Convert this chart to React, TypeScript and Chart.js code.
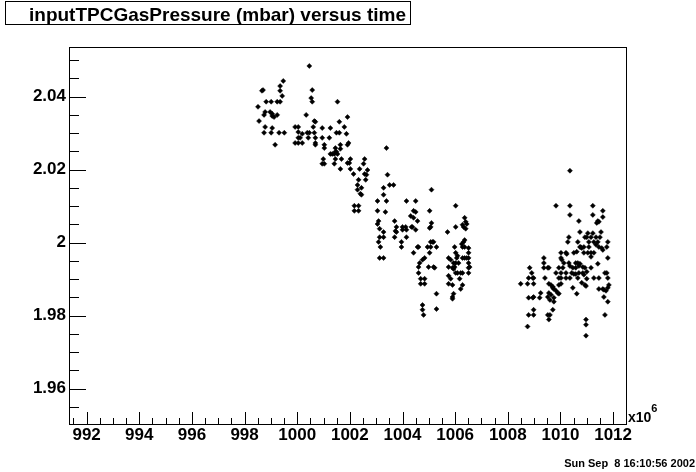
import { useEffect, useRef } from 'react';
import { Chart, registerables } from 'chart.js';

Chart.register(...registerables);

// time in units of 10^6 s, pressure in mbar
const runATime = [
  1000.46, 999.47, 999.35, 998.70, 998.66, 999.35, 1000.57, 999.43, 1000.53, 1000.57,
  998.82, 999.01, 999.24, 999.35, 1001.53, 998.51, 998.78, 998.74, 998.97, 999.05,
  999.12, 999.05, 999.24, 1000.34, 1001.91, 998.55, 1000.65, 1000.69, 1001.60, 998.78,
  999.05, 999.92, 1000.04, 1000.61, 1000.95, 1001.26, 1001.79, 998.74, 999.01, 999.31,
  999.51, 1000.04, 1000.19, 1000.38, 1000.46, 1000.65, 1001.49, 1001.60, 1001.87, 1000.04,
  1000.11, 1000.42, 1000.69, 1000.95, 1001.22, 999.16, 999.92, 1000.04, 1000.19, 1000.69,
  1000.69, 1001.03, 1001.03, 1001.64, 1001.64, 1001.95, 1001.91, 1001.45, 1001.49, 1001.26,
  1001.33, 1001.41, 1001.53, 1001.45, 1003.39, 1000.99, 1000.95, 1001.03, 1001.45, 1001.68,
  1001.41, 1001.91, 1001.98, 1002.02, 1002.56, 1002.52, 1001.64, 1002.02, 1002.37, 1002.67,
  1002.63, 1002.56, 1002.14, 1003.43, 1002.33, 1002.60, 1003.51, 1002.29, 1002.29, 1002.44,
  1002.40, 1002.44, 1003.28, 1003.28, 1003.05, 1003.39, 1002.17, 1002.33, 1002.17, 1002.33,
  1003.05, 1003.35, 1003.09, 1003.05, 1003.13, 1003.28, 1003.13, 1003.28, 1003.09, 1003.16,
  1003.13, 1003.28, 1003.66, 1005.10, 1004.15, 1004.50, 1006.02, 1004.42, 1004.50, 1005.03,
  1004.31, 1004.42, 1004.57, 1003.70, 1006.36, 1006.40, 1006.44, 1006.28, 1006.32, 1006.40,
  1005.10, 1005.07, 1005.03, 1003.77, 1003.73, 1003.77, 1004.00, 1004.12, 1004.00, 1004.15,
  1004.34, 1004.38, 1004.50, 1006.02, 1005.71, 1003.70, 1004.15, 1006.36, 1006.32, 1006.25,
  1005.07, 1005.14, 1005.18, 1003.96, 1003.96, 1004.57, 1004.61, 1004.95, 1005.07, 1005.29,
  1005.98, 1006.28, 1006.36, 1006.51, 1004.42, 1005.03, 1006.02, 1006.09, 1006.06, 1006.51,
  1006.51, 1006.44, 1004.84, 1004.76, 1004.65, 1006.28, 1006.36, 1005.75, 1005.83, 1005.94,
  1006.02, 1006.13, 1006.51, 1006.55, 1006.51, 1004.61, 1004.61, 1004.99, 1005.18, 1005.22,
  1005.75, 1005.90, 1005.94, 1005.98, 1006.02, 1006.09, 1006.21, 1006.28, 1006.51, 1005.75,
  1005.83, 1004.69, 1004.84, 1006.17, 1004.69, 1004.84, 1005.75, 1005.90, 1006.28, 1006.21,
  1005.29, 1005.94, 1005.90, 1005.90, 1004.76, 1004.76, 1004.80, 1005.29,
];
const runAPressure = [
  2.0484, 2.0443, 2.0429, 2.0418, 2.0416, 2.0416, 2.0418, 2.0402, 2.0396, 2.0386,
  2.0386, 2.0386, 2.0386, 2.0386, 2.0386, 2.0372, 2.0358, 2.0350, 2.0358, 2.0353,
  2.0344, 2.0347, 2.0350, 2.0350, 2.0344, 2.0333, 2.0333, 2.0331, 2.0331, 2.0317,
  2.0314, 2.0317, 2.0317, 2.0317, 2.0314, 2.0314, 2.0317, 2.0301, 2.0301, 2.0301,
  2.0301, 2.0303, 2.0298, 2.0301, 2.0301, 2.0301, 2.0301, 2.0301, 2.0298, 2.0287,
  2.0287, 2.0287, 2.0287, 2.0287, 2.0287, 2.0268, 2.0273, 2.0273, 2.0273, 2.0273,
  2.0268, 2.0268, 2.0259, 2.0268, 2.0257, 2.0273, 2.0268, 2.0259, 2.0249, 2.0243,
  2.0243, 2.0243, 2.0243, 2.0249, 2.0259, 2.0229, 2.0216, 2.0216, 2.0229, 2.0229,
  2.0216, 2.0218, 2.0218, 2.0229, 2.0229, 2.0216, 2.0202, 2.0202, 2.0202, 2.0199,
  2.0186, 2.0188, 2.0188, 2.0186, 2.0172, 2.0172, 2.0158, 2.0158, 2.0145, 2.0150,
  2.0134, 2.0131, 2.0150, 2.0131, 2.0114, 2.0114, 2.0101, 2.0101, 2.0087, 2.0087,
  2.0087, 2.0084, 2.0059, 2.0051, 2.0038, 2.0029, 2.0015, 2.0015, 2.0002, 1.9988,
  1.9958, 1.9958, 2.0158, 2.0145, 2.0114, 2.0114, 2.0101, 2.0087, 2.0084, 2.0087,
  2.0073, 2.0068, 2.0059, 2.0059, 2.0068, 2.0057, 2.0051, 2.0049, 2.0043, 2.0038,
  2.0054, 2.0043, 2.0040, 2.0043, 2.0032, 2.0029, 2.0043, 2.0043, 2.0035, 2.0035,
  2.0043, 2.0043, 2.0035, 2.0043, 2.0029, 2.0015, 2.0015, 2.0007, 2.0002, 1.9996,
  2.0002, 2.0002, 2.0002, 2.0002, 1.9988, 1.9988, 1.9988, 1.9988, 1.9988, 1.9988,
  1.9988, 1.9988, 1.9988, 1.9985, 1.9972, 1.9972, 1.9972, 1.9964, 1.9958, 1.9972,
  1.9958, 1.9958, 1.9958, 1.9953, 1.9944, 1.9958, 1.9958, 1.9958, 1.9953, 1.9944,
  1.9944, 1.9944, 1.9944, 1.9933, 1.9931, 1.9933, 1.9917, 1.9933, 1.9933, 1.9931,
  1.9933, 1.9931, 1.9928, 1.9933, 1.9917, 1.9917, 1.9917, 1.9917, 1.9917, 1.9909,
  1.9901, 1.9901, 1.9901, 1.9901, 1.9887, 1.9887, 1.9887, 1.9884, 1.9884, 1.9873,
  1.9860, 1.9860, 1.9851, 1.9846, 1.9829, 1.9816, 1.9802, 1.9818,
];
const runBTime = [
  1008.49, 1010.36, 1009.83, 1010.36, 1011.23, 1010.36, 1011.61, 1011.23, 1011.61, 1011.42,
  1011.46, 1011.38, 1010.70, 1010.74, 1011.04, 1011.23, 1011.54, 1011.50, 1010.32, 1010.28,
  1010.93, 1011.00, 1011.16, 1011.35, 1010.66, 1010.77, 1011.08, 1011.27, 1011.42, 1011.35,
  1011.46, 1011.57, 1011.61, 1011.80, 1011.76, 1010.89, 1011.08, 1010.74, 1010.81, 1010.02,
  1010.21, 1010.24, 1010.51, 1010.62, 1010.89, 1011.04, 1011.16, 1011.27, 1011.16, 1009.37,
  1009.37, 1010.02, 1010.05, 1011.80, 1010.13, 1010.32, 1010.36, 1010.58, 1010.66, 1010.74,
  1010.70, 1010.58, 1010.85, 1011.42, 1009.37, 1009.52, 1009.56, 1009.94, 1010.09, 1010.02,
  1010.21, 1010.47, 1010.43, 1010.51, 1010.70, 1010.58, 1010.93, 1011.00, 1011.16, 1008.83,
  1008.91, 1009.83, 1010.85, 1010.89, 1011.69, 1011.76, 1011.80, 1008.79, 1008.95, 1008.98,
  1009.41, 1009.94, 1010.02, 1010.21, 1010.36, 1010.66, 1011.00, 1011.27, 1011.46, 1008.75,
  1008.98, 1009.56, 1009.64, 1009.71, 1009.94, 1010.02, 1010.81, 1010.93, 1010.97, 1011.84,
  1011.80, 1011.73, 1009.71, 1009.75, 1009.83, 1009.90, 1009.94, 1010.47, 1011.46, 1011.61,
  1011.65, 1009.25, 1009.21, 1009.56, 1009.64, 1009.60, 1009.52, 1010.62, 1008.79, 1008.95,
  1008.98, 1009.75, 1009.75, 1011.65, 1011.80, 1008.98, 1008.98, 1008.79, 1009.52, 1009.60,
  1009.56, 1009.71, 1011.69, 1008.75, 1010.97, 1010.97, 1010.97,
];
const runBPressure = [
  1.9887, 2.0197, 2.0101, 2.0101, 2.0101, 2.0076, 2.0087, 2.0076, 2.0070, 2.0059,
  2.0057, 2.0054, 2.0059, 2.0029, 2.0026, 2.0026, 2.0029, 2.0015, 2.0015, 2.0002,
  2.0015, 2.0015, 2.0015, 2.0015, 2.0002, 1.9988, 2.0002, 2.0002, 2.0002, 1.9994,
  1.9988, 1.9985, 1.9980, 2.0002, 1.9988, 1.9988, 1.9988, 1.9988, 1.9985, 1.9972,
  1.9972, 1.9969, 1.9972, 1.9975, 1.9972, 1.9972, 1.9972, 1.9972, 1.9961, 1.9958,
  1.9944, 1.9958, 1.9953, 1.9958, 1.9944, 1.9944, 1.9936, 1.9944, 1.9944, 1.9942,
  1.9936, 1.9931, 1.9933, 1.9942, 1.9931, 1.9931, 1.9931, 1.9931, 1.9931, 1.9917,
  1.9917, 1.9931, 1.9917, 1.9914, 1.9917, 1.9914, 1.9931, 1.9920, 1.9931, 1.9931,
  1.9917, 1.9917, 1.9917, 1.9912, 1.9917, 1.9917, 1.9903, 1.9903, 1.9903, 1.9903,
  1.9903, 1.9903, 1.9903, 1.9903, 1.9903, 1.9903, 1.9901, 1.9903, 1.9903, 1.9887,
  1.9887, 1.9887, 1.9884, 1.9879, 1.9884, 1.9887, 1.9890, 1.9884, 1.9881, 1.9884,
  1.9876, 1.9868, 1.9876, 1.9873, 1.9868, 1.9862, 1.9860, 1.9876, 1.9873, 1.9873,
  1.9871, 1.9862, 1.9849, 1.9862, 1.9857, 1.9843, 1.9851, 1.9860, 1.9849, 1.9849,
  1.9851, 1.9849, 1.9838, 1.9851, 1.9838, 1.9816, 1.9802, 1.9802, 1.9802, 1.9802,
  1.9789, 1.9816, 1.9802, 1.9770, 1.9789, 1.9775, 1.9745,
];

const xMajorTicks = [992, 994, 996, 998, 1000, 1002, 1004, 1006, 1008, 1010, 1012];
const xTickLabels = ['992', '994', '996', '998', '1000', '1002', '1004', '1006', '1008', '1010', '1012'];
const yMajorTicks = [1.96, 1.98, 2.0, 2.02, 2.04];
const yTickLabels = ['1.96', '1.98', '2', '2.02', '2.04'];

const titleText = 'inputTPCGasPressure (mbar) versus time';
const dateText = 'Sun Sep  8 16:10:56 2002';

const X_MIN = 991.33;
const X_MAX = 1012.49;
const Y_MIN = 1.9503;
const Y_MAX = 2.0536;
const X_MINOR_STEP = 0.5;
const Y_MINOR_STEP = 0.005;

const FONT = '"Liberation Sans", Arial, Helvetica, sans-serif';

function minorValues(min: number, max: number, step: number): number[] {
  const out: number[] = [];
  const start = Math.ceil(min / step - 1e-9);
  const end = Math.floor(max / step + 1e-9);
  for (let i = start; i <= end; i++) out.push(Number((i * step).toFixed(6)));
  return out;
}

function majorIndex(list: number[], v: number): number {
  return list.findIndex((m) => Math.abs(m - v) < 1e-7);
}

const decorPlugin = {
  id: 'rootDecor',
  afterDraw(chart: any) {
    const { ctx, chartArea } = chart;
    const xs = chart.scales.x;
    const ys = chart.scales.y;
    const left = Math.round(chartArea.left);
    const right = Math.round(chartArea.right);
    const top = Math.round(chartArea.top);
    const bottom = Math.round(chartArea.bottom);
    ctx.save();
    ctx.strokeStyle = '#000';
    ctx.lineWidth = 1;
    ctx.strokeRect(left + 0.5, top + 0.5, right - left, bottom - top);

    ctx.beginPath();
    for (const v of minorValues(X_MIN, X_MAX, X_MINOR_STEP)) {
      const px = Math.round(xs.getPixelForValue(v)) + 0.5;
      const len = majorIndex(xMajorTicks, v) >= 0 ? 12 : 6;
      ctx.moveTo(px, bottom);
      ctx.lineTo(px, bottom - len);
    }
    for (const v of minorValues(Y_MIN, Y_MAX, Y_MINOR_STEP)) {
      const py = Math.round(ys.getPixelForValue(v)) + 0.5;
      const len = majorIndex(yMajorTicks, v) >= 0 ? 17 : 10;
      ctx.moveTo(left, py);
      ctx.lineTo(left + len, py);
    }
    ctx.stroke();

    // title box
    ctx.strokeRect(5.5, 1.5, 405, 23);
    ctx.fillStyle = '#000';
    ctx.textAlign = 'left';
    ctx.textBaseline = 'alphabetic';
    ctx.font = `bold 19px ${FONT}`;
    ctx.fillText(titleText, 29, 21);

    // exponent label
    ctx.font = `bold 14px ${FONT}`;
    ctx.fillText('x10', 628, 422);
    const w = ctx.measureText('x10').width;
    ctx.font = `bold 11px ${FONT}`;
    ctx.fillText('6', 628 + w, 412);

    // date stamp
    ctx.font = `bold 11px ${FONT}`;
    ctx.textAlign = 'right';
    ctx.fillText(dateText, 695, 467);
    ctx.restore();
  },
};

export default function App() {
  const canvasRef = useRef<HTMLCanvasElement | null>(null);

  useEffect(() => {
    document.body.style.margin = '0';
    const canvas = canvasRef.current;
    if (!canvas) return;
    const points = [
      ...runATime.map((t, i) => ({ x: t, y: runAPressure[i] })),
      ...runBTime.map((t, i) => ({ x: t, y: runBPressure[i] })),
    ];
    const chart = new Chart(canvas, {
      type: 'scatter',
      data: {
        datasets: [
          {
            data: points,
            pointStyle: 'rectRot',
            pointRadius: 2.5,
            pointHoverRadius: 2.5,
            backgroundColor: '#000',
            borderColor: '#000',
            borderWidth: 0.5,
          },
        ],
      },
      options: {
        responsive: false,
        animation: false,
        devicePixelRatio: 1,
        events: [],
        layout: { padding: { left: 0, top: 47, right: 70, bottom: 0 } },
        plugins: {
          legend: { display: false },
          tooltip: { enabled: false },
          title: { display: false },
        },
        scales: {
          x: {
            type: 'linear',
            min: X_MIN,
            max: X_MAX,
            afterFit: (s: any) => {
              s.height = 48;
            },
            afterBuildTicks: (s: any) => {
              s.ticks = minorValues(X_MIN, X_MAX, X_MINOR_STEP).map((v) => ({ value: v }));
            },
            grid: { display: false, drawTicks: false },
            border: { display: false },
            ticks: {
              autoSkip: false,
              maxRotation: 0,
              padding: 1,
              color: '#000',
              font: { family: FONT, size: 17, weight: 'bold' },
              callback: (v: any) => {
                const i = majorIndex(xMajorTicks, Number(v));
                return i >= 0 ? xTickLabels[i] : '';
              },
            },
          },
          y: {
            type: 'linear',
            min: Y_MIN,
            max: Y_MAX,
            afterFit: (s: any) => {
              s.width = 69;
            },
            afterBuildTicks: (s: any) => {
              s.ticks = minorValues(Y_MIN, Y_MAX, Y_MINOR_STEP).map((v) => ({ value: v }));
            },
            grid: { display: false, drawTicks: false },
            border: { display: false },
            ticks: {
              autoSkip: false,
              padding: 3,
              color: '#000',
              font: { family: FONT, size: 17, weight: 'bold' },
              callback: (v: any) => {
                const i = majorIndex(yMajorTicks, Number(v));
                return i >= 0 ? yTickLabels[i] : '';
              },
            },
          },
        },
      },
      plugins: [decorPlugin],
    });
    return () => chart.destroy();
  }, []);

  return (
    <div style={{ position: 'absolute', left: 0, top: 0, width: 696, height: 472, background: '#fff' }}>
      <canvas ref={canvasRef} width={696} height={472} style={{ display: 'block', width: 696, height: 472 }} />
    </div>
  );
}
